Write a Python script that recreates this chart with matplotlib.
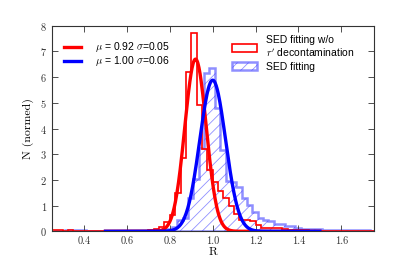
# plot.py
# Histogramas normalizados de R com ajuste gaussiano (SED fitting vs sem descontaminacao r').

import numpy as np
import matplotlib
matplotlib.use("Agg")
import matplotlib.pyplot as plt
from matplotlib.patches import Patch
from matplotlib.lines import Line2D

# ---------- dados ----------
# histograma vermelho: SED fitting w/o r' decontamination (bins de 0.025, de 0.25 a 1.75)
red_edges = np.round(np.arange(0.25, 1.7501, 0.025), 4)
red_counts = [
    0.04, 0.04, 0.03, 0.04, 0.03, 0.03, 0.02, 0.03, 0.02, 0.03,   # 0.25 - 0.50
    0.01, 0.01, 0.00, 0.01, 0.01, 0.01, 0.02, 0.03, 0.05, 0.10,   # 0.50 - 0.75
    0.15, 0.36, 0.62, 1.50, 2.85, 6.20, 7.70, 4.90, 3.20, 2.40,   # 0.75 - 1.00
    1.90, 1.55, 1.28, 0.98, 0.69, 0.45, 0.43, 0.42, 0.23, 0.14,   # 1.00 - 1.25
    0.14, 0.14, 0.13, 0.08, 0.06, 0.05, 0.05, 0.05, 0.03, 0.03,   # 1.25 - 1.50
    0.02, 0.03, 0.02, 0.02, 0.03, 0.02, 0.02, 0.02, 0.02, 0.02,   # 1.50 - 1.75
]

# histograma azul: SED fitting (bins de 0.025, de 0.26 a 1.76)
blue_edges = np.round(np.arange(0.26, 1.7601, 0.025), 4)
blue_counts = [
    0.02, 0.03, 0.04, 0.05, 0.05, 0.04, 0.03, 0.02, 0.02, 0.01,   # 0.26 - 0.51
    0.01, 0.01, 0.00, 0.01, 0.01, 0.01, 0.01, 0.02, 0.03, 0.04,   # 0.51 - 0.76
    0.05, 0.08, 0.17, 0.45, 0.50, 1.30, 2.05, 3.25, 6.16, 6.35,   # 0.76 - 1.01
    4.80, 3.16, 1.95, 1.90, 1.73, 1.28, 1.02, 0.75, 0.50, 0.43,   # 1.01 - 1.26
    0.40, 0.30, 0.28, 0.20, 0.19, 0.12, 0.10, 0.10, 0.10, 0.10,   # 1.26 - 1.51
    0.07, 0.05, 0.05, 0.05, 0.05, 0.04, 0.04, 0.04, 0.04, 0.03,   # 1.51 - 1.76
]

# ajustes gaussianos (mu, sigma, amplitude)
red_fit = (0.92, 0.05, 6.70)
blue_fit = (1.00, 0.06, 5.88)
fit_range = (0.5, 1.5)

red_label = "SED fitting w/o\n$r'$ decontamination"
blue_label = "SED fitting"
red_fit_label = r"$\mu$ = 0.92 $\sigma$=0.05"
blue_fit_label = r"$\mu$ = 1.00 $\sigma$=0.06"

x_ticks = [0.4, 0.6, 0.8, 1.0, 1.2, 1.4, 1.6]
y_ticks = [0, 1, 2, 3, 4, 5, 6, 7, 8]


def gauss(x, mu, sigma, amp):
    return amp * np.exp(-0.5 * ((x - mu) / sigma) ** 2)


def main():
    plt.rcParams["font.family"] = "cmr10"
    plt.rcParams["mathtext.fontset"] = "cm"
    plt.rcParams["axes.formatter.use_mathtext"] = True
    plt.rcParams["hatch.linewidth"] = 0.6
    plt.rcParams["xtick.direction"] = "in"
    plt.rcParams["ytick.direction"] = "in"

    fig = plt.figure(figsize=(4.15, 2.57), dpi=100)
    ax = fig.add_axes([0.125, 0.10, 0.775, 0.80])

    red_mid = (red_edges[:-1] + red_edges[1:]) / 2
    blue_mid = (blue_edges[:-1] + blue_edges[1:]) / 2

    ax.hist(red_mid, bins=red_edges, weights=red_counts, histtype="step",
            color="red", lw=1.2, zorder=2)
    ax.hist(blue_mid, bins=blue_edges, weights=blue_counts, histtype="stepfilled",
            facecolor="none", edgecolor="#3333ff", hatch="///", lw=1.8,
            alpha=0.55, zorder=1)

    xs = np.linspace(fit_range[0], fit_range[1], 400)
    ax.plot(xs, gauss(xs, *red_fit), color="red", lw=2.4, zorder=3)
    ax.plot(xs, gauss(xs, *blue_fit), color="blue", lw=2.4, zorder=4)

    ax.set_xlim(0.25, 1.75)
    ax.set_ylim(0, 8)
    ax.set_xticks(x_ticks)
    ax.set_yticks(y_ticks)
    ax.set_xticklabels([f"{t:.1f}" for t in x_ticks])
    ax.tick_params(labelsize=7.5, length=4, width=0.6, top=True, right=True,
                   labelcolor="#333333", colors="#333333")
    for s in ax.spines.values():
        s.set_linewidth(0.8)
        s.set_color("#333333")

    ax.set_xlabel("R", fontsize=8.5, labelpad=1)
    ax.set_ylabel("N (normed)", fontsize=8.5, labelpad=4)

    # ---------- legendas ----------
    fit_handles = [Line2D([], [], color="red", lw=2.4),
                   Line2D([], [], color="blue", lw=2.4)]
    leg1 = ax.legend(fit_handles, [red_fit_label, blue_fit_label],
                     loc="upper left", frameon=False, handlelength=1.6,
                     handletextpad=1.3, labelspacing=0.0,
                     prop={"family": "Liberation Sans", "size": 7.5},
                     bbox_to_anchor=(0.01, 0.975))
    ax.add_artist(leg1)

    hist_handles = [Patch(facecolor="white", edgecolor="red", lw=1.2),
                    Patch(facecolor="none", edgecolor="#3333ff", hatch="///",
                          lw=1.8, alpha=0.55)]
    ax.legend(hist_handles, [red_label, blue_label], loc="upper right",
              frameon=False, handlelength=2.4, handleheight=0.8,
              handletextpad=0.9, labelspacing=0.25,
              prop={"family": "Liberation Sans", "size": 7.5},
              bbox_to_anchor=(0.97, 1.0))

    fig.savefig("out.png", dpi=100)


if __name__ == "__main__":
    main()
